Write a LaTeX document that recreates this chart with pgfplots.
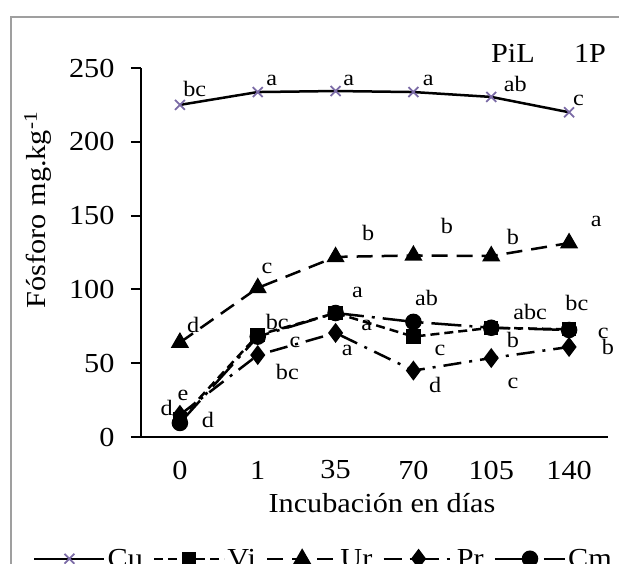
\documentclass[border=0pt]{standalone}
\usepackage{fontspec}
\setmainfont[FakeStretch=1.1]{Liberation Serif}
\usepackage{pgfplots}
\pgfplotsset{compat=1.18}
\definecolor{cumark}{HTML}{7B6BA6}

\newcommand{\tickfont}{\fontsize{27.5}{30}\selectfont}
\newcommand{\letfont}{\fontsize{22}{24}\selectfont}

\begin{document}
\begin{tikzpicture}
\useasboundingbox (0,0) rectangle (619pt,564pt);
\clip (0,0) rectangle (619pt,564pt);
\draw[gray!75, line width=2pt] (11pt,-5pt) -- (11pt,547pt) -- (630pt,547pt);
\begin{axis}[
  at={(141pt,127pt)}, anchor=south west,
  scale only axis, width=467pt, height=369pt,
  xmin=-0.5, xmax=5.5, ymin=0, ymax=250,
  axis x line*=bottom, axis y line*=left,
  axis line style={line width=2pt, black},
  xtick={0,...,5}, xticklabels={0,1,35,70,105,140},
  ytick={0,50,...,250},
  xtick style={draw=none},
  ytick style={line width=2pt, black},
  ytick align=outside, major tick length=10pt,
  tick label style={font=\tickfont},
  /pgf/number format/assume math mode=true,
  xticklabel style={anchor=center, yshift=-33pt},
  yticklabel style={anchor=east, xshift=-13pt},
  clip=false,
  every axis plot/.append style={line width=2.5pt, black},
  legend columns=5,
  legend image code/.code={\draw[#1, mark repeat=2, mark phase=2]
    plot coordinates {(0pt,0pt) (35pt,0pt) (70pt,0pt)};},
  legend style={draw=none, fill=none, font=\tickfont, inner sep=0pt,
    at={(axis description cs:-0.2313,-0.330)}, anchor=west,
    /tikz/every even column/.append style={column sep=8pt}},
]
\addplot[mark=x, mark size=7pt, mark options={cumark, solid, line width=1.8pt}]
  coordinates {(0,225) (1,233.7) (2,234.4) (3,233.7) (4,230.4) (5,220)};
\addplot[dash pattern=on 9pt off 5pt, mark=square*, mark size=6pt, mark options={solid}]
  coordinates {(0,12) (1,69) (2,84) (3,68) (4,74) (5,73)};
\addplot[dash pattern=on 16pt off 9pt, mark=triangle*, mark size=8pt, mark options={solid}]
  coordinates {(0,64) (1,101) (2,122) (3,123) (4,122.6) (5,131.4)};
\addplot[dash pattern=on 18pt off 8pt on 3pt off 8pt, mark=diamond*, mark size=8pt, mark options={solid}]
  coordinates {(0,15) (1,55.5) (2,70.5) (3,45) (4,53.5) (5,61)};
\addplot[dash pattern=on 30pt off 8pt on 3pt off 8pt, mark=*, mark size=7pt, mark options={solid}]
  coordinates {(0,9.5) (1,68) (2,84) (3,78) (4,74) (5,72.5)};
\legend{Cu,Vi,Ur,Pr,Cm}

% letras de significancia
\begin{scope}[every node/.style={font=\letfont, inner sep=0pt}]
\node at (axis cs:0.19,235.8) {bc};
\node at (axis cs:1.18,241.9) {a};
\node at (axis cs:2.17,241.9) {a};
\node at (axis cs:3.19,241.9) {a};
\node at (axis cs:4.31,239.2) {ab};
\node at (axis cs:5.12,228.3) {c};
\node at (axis cs:0.17,75.9) {d};
\node at (axis cs:1.12,114.5) {c};
\node at (axis cs:2.42,138.2) {b};
\node at (axis cs:3.43,143) {b};
\node at (axis cs:4.28,135.5) {b};
\node at (axis cs:5.35,145.7) {a};
\node at (axis cs:-0.17,19.6) {d};
\node at (axis cs:0.04,28.5) {e};
\node at (axis cs:0.36,11.5) {d};
\node at (axis cs:1.25,77.9) {bc};
\node at (axis cs:1.48,64.4) {c};
\node at (axis cs:1.38,44) {bc};
\node at (axis cs:2.28,97.6) {a};
\node at (axis cs:2.40,75.9) {a};
\node at (axis cs:2.15,58.9) {a};
\node at (axis cs:3.17,94.2) {ab};
\node at (axis cs:3.34,58.9) {c};
\node at (axis cs:3.28,35.2) {d};
\node at (axis cs:4.50,84.7) {abc};
\node at (axis cs:4.28,65.7) {b};
\node at (axis cs:4.28,36.6) {c};
\node at (axis cs:5.10,90.8) {bc};
\node at (axis cs:5.44,70.5) {c};
\node at (axis cs:5.50,61) {b};
\end{scope}
\end{axis}
\node[rotate=90, font=\tickfont] at (38pt,354pt) {Fósforo mg.kg\textsuperscript{-1}};
\node[font=\tickfont] at (382pt,61pt) {Incubación en días};
\node[font=\tickfont] at (513pt,511pt) {PiL};
\node[font=\tickfont] at (590pt,511pt) {1P};
\end{tikzpicture}
\end{document}
